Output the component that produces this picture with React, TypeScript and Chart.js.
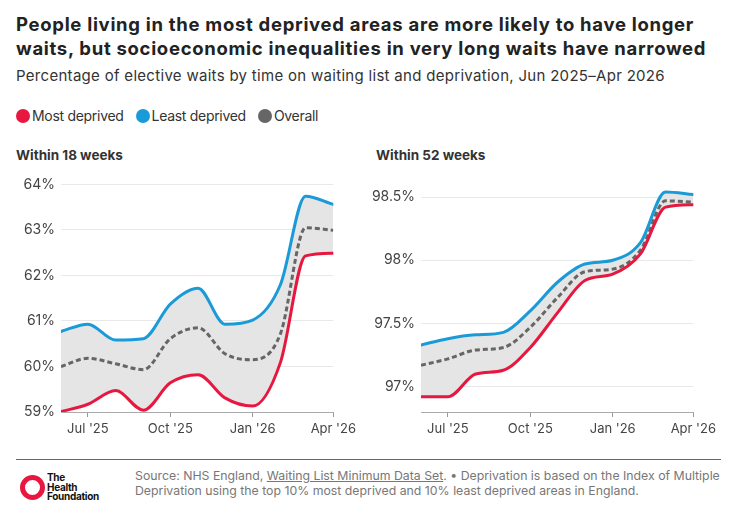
import React, { useEffect, useRef } from "react";
import { Chart, registerables } from "chart.js";

Chart.register(...registerables);

// ---- Data ----
const months = [
  "2025-06-01", "2025-07-01", "2025-08-01", "2025-09-01", "2025-10-01", "2025-11-01",
  "2025-12-01", "2026-01-01", "2026-02-01", "2026-03-01", "2026-04-01",
];
const tickDates = ["2025-07-01", "2025-10-01", "2026-01-01", "2026-04-01"];
const tickLabels = ["Jul '25", "Oct '25", "Jan '26", "Apr '26"];

const w18Most = [59.01, 59.17, 59.47, 59.04, 59.64, 59.82, 59.31, 59.13, 60.09, 62.43, 62.49];
const w18Least = [60.77, 60.93, 60.58, 60.61, 61.37, 61.72, 60.93, 61.02, 61.8, 63.74, 63.56];
const w18Overall = [60.0, 60.18, 60.06, 59.93, 60.61, 60.85, 60.28, 60.15, 60.72, 63.05, 62.99];
const w18YTicks = [59, 60, 61, 62, 63, 64];

const w52Most = [96.92, 96.92, 97.1, 97.13, 97.31, 97.59, 97.84, 97.89, 98.05, 98.42, 98.44];
const w52Least = [97.33, 97.38, 97.41, 97.43, 97.6, 97.83, 97.97, 98.0, 98.14, 98.54, 98.52];
const w52Overall = [97.17, 97.22, 97.29, 97.31, 97.47, 97.71, 97.91, 97.93, 98.08, 98.47, 98.46];
const w52YTicks = [97, 97.5, 98, 98.5];

// ---- Styles ----
const RED = "#e8173f";
const BLUE = "#1b9ad8";
const GREY = "#666666";
const FILL = "#e5e5e5";
const FONT = "Inter, 'Noto Sans', sans-serif";

const dayOffset = (d: string) =>
  (Date.parse(d + "T00:00:00Z") - Date.parse(months[0] + "T00:00:00Z")) / 86400000;

type PanelProps = {
  most: number[];
  least: number[];
  overall: number[];
  yMin: number;
  yMax: number;
  yTicks: number[];
};

function Panel({ most, least, overall, yMin, yMax, yTicks }: PanelProps) {
  const ref = useRef<HTMLCanvasElement>(null);
  useEffect(() => {
    if (!ref.current) return;
    const xs = months.map(dayOffset);
    const pts = (arr: number[]) => arr.map((v, i) => ({ x: xs[i], y: v }));
    const tickVals = tickDates.map(dayOffset);
    const common = {
      pointRadius: 0,
      borderWidth: 3,
      cubicInterpolationMode: "monotone" as const,
      borderCapStyle: "round" as const,
    };
    const chart = new Chart(ref.current, {
      type: "line",
      data: {
        datasets: [
          {
            ...common,
            label: "Least deprived",
            data: pts(least),
            borderColor: BLUE,
            backgroundColor: FILL,
            fill: { target: 1 },
          },
          {
            ...common,
            label: "Most deprived",
            data: pts(most),
            borderColor: RED,
            fill: false,
          },
          {
            ...common,
            label: "Overall",
            data: pts(overall),
            borderColor: GREY,
            borderDash: [5, 3],
            borderCapStyle: "butt",
            fill: false,
          },
        ],
      },
      options: {
        responsive: false,
        maintainAspectRatio: false,
        animation: false,
        devicePixelRatio: 1,
        layout: { padding: { top: 13, right: 26, left: 0, bottom: 0 } },
        plugins: {
          legend: { display: false },
          tooltip: { enabled: false },
          filler: { drawTime: "beforeDatasetsDraw" },
        } as any,
        scales: {
          x: {
            type: "linear",
            min: xs[0],
            max: xs[xs.length - 1],
            afterBuildTicks: (s: any) => {
              s.ticks = tickVals.map((v) => ({ value: v }));
            },
            afterFit: (s: any) => {
              s.height = 30;
            },
            ticks: {
              autoSkip: false,
              maxRotation: 0,
              padding: 4,
              color: "#444",
              font: { family: FONT, size: 13 },
              callback: (v: any) => {
                const i = tickVals.indexOf(Number(v));
                return i >= 0 ? tickLabels[i] : "";
              },
            },
            grid: { drawOnChartArea: false, drawTicks: true, tickLength: 5, color: "#999" },
            border: { display: true, color: "#aaa", width: 1 },
          },
          y: {
            min: yMin,
            max: yMax,
            afterBuildTicks: (s: any) => {
              s.ticks = yTicks.map((v) => ({ value: v }));
            },
            afterFit: (s: any) => {
              s.width = 61;
            },
            ticks: {
              padding: 6,
              color: "#444",
              font: { family: FONT, size: 14 },
              callback: (v: any) => String(Number(v)) + "%",
            },
            grid: { color: "#e8e8e8", drawTicks: false, lineWidth: 1 },
            border: { display: false },
          },
        },
      } as any,
    });
    return () => chart.destroy();
  }, []);
  return <canvas ref={ref} width={360} height={272} style={{ width: 360, height: 272, display: "block" }} />;
}

const abs = (o: React.CSSProperties): React.CSSProperties => ({ position: "absolute", ...o });

function LegendItem({ color, label }: { color: string; label: string }) {
  return (
    <div style={{ display: "flex", alignItems: "center", marginRight: 12 }}>
      <span
        style={{
          width: 14,
          height: 14,
          borderRadius: "50%",
          background: color,
          display: "inline-block",
          marginRight: 2,
        }}
      />
      <span>{label}</span>
    </div>
  );
}

export default function App() {
  useEffect(() => {
    document.body.style.margin = "0";
  }, []);
  return (
    <div
      style={{
        position: "relative",
        width: 735,
        height: 525,
        background: "#fff",
        fontFamily: FONT,
        color: "#222",
        overflow: "hidden",
      }}
    >
      <div
        style={abs({
          left: 16,
          top: 12,
          fontSize: 18.5,
          lineHeight: "24px",
          fontWeight: 700,
          letterSpacing: 0.7,
          color: "#222",
          width: 715,
          whiteSpace: "nowrap",
        })}
      >
        People living in the most deprived areas are more likely to have longer
        <br />
        waits, but socioeconomic inequalities in very long waits have narrowed
      </div>
      <div style={abs({ left: 16, top: 67, fontSize: 15, lineHeight: "18px", letterSpacing: 0.3, color: "#333", whiteSpace: "nowrap" })}>
        Percentage of elective waits by time on waiting list and deprivation, Jun 2025–Apr 2026
      </div>
      <div
        style={abs({
          left: 16,
          top: 107,
          height: 18,
          fontSize: 14,
          lineHeight: "18px",
          letterSpacing: -0.3,
          color: "#333",
          display: "flex",
        })}
      >
        <LegendItem color={RED} label="Most deprived" />
        <LegendItem color={BLUE} label="Least deprived" />
        <LegendItem color={GREY} label="Overall" />
      </div>
      <div style={abs({ left: 16, top: 147, fontSize: 13.5, lineHeight: "17px", fontWeight: 700, color: "#333" })}>
        Within 18 weeks
      </div>
      <div style={abs({ left: 376, top: 147, fontSize: 13.5, lineHeight: "17px", fontWeight: 700, color: "#333" })}>
        Within 52 weeks
      </div>
      <div style={abs({ left: 0, top: 170 })}>
        <Panel most={w18Most} least={w18Least} overall={w18Overall} yMin={59} yMax={64} yTicks={w18YTicks} />
      </div>
      <div style={abs({ left: 360, top: 170 })}>
        <Panel most={w52Most} least={w52Least} overall={w52Overall} yMin={96.8} yMax={98.6} yTicks={w52YTicks} />
      </div>
      <div style={abs({ left: 16, top: 459, width: 705, height: 1, background: "#666" })} />
      <div
        style={abs({
          left: 20,
          top: 475,
          width: 15,
          height: 15,
          borderRadius: "50%",
          border: "5px solid " + RED,
        })}
      />
      <div
        style={abs({
          left: 47,
          top: 473,
          fontSize: 10,
          lineHeight: "9.7px",
          fontWeight: 700,
          color: "#111",
          letterSpacing: -0.3,
        })}
      >
        The
        <br />
        Health
        <br />
        Foundation
      </div>
      <div style={abs({ left: 135, top: 468, fontSize: 12.3, lineHeight: "15px", color: "#777", whiteSpace: "nowrap" })}>
        Source: NHS England, <span style={{ textDecoration: "underline" }}>Waiting List Minimum Data Set</span>. • Deprivation is based on the Index of Multiple
        <br />
        Deprivation using the top 10% most deprived and 10% least deprived areas in England.
      </div>
    </div>
  );
}
